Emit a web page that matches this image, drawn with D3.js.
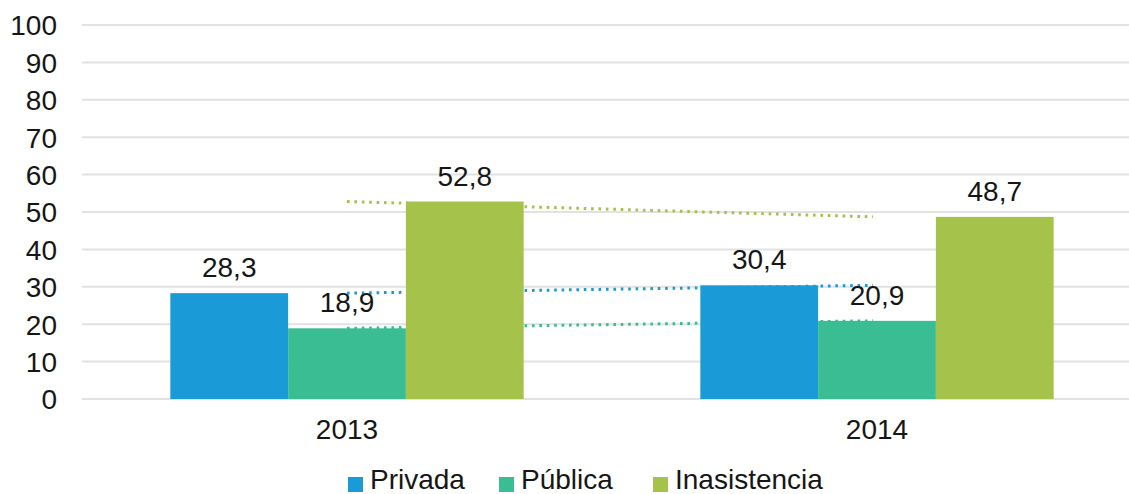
<!DOCTYPE html>
<html>
<head>
<meta charset="utf-8">
<script src="https://cdn.jsdelivr.net/npm/d3@7"></script>
<style>
  html, body { margin: 0; padding: 0; background: #fff; }
  svg text { font-family: "Liberation Sans", Arial, sans-serif; fill: #161616; }
</style>
</head>
<body>
<svg id="chart" width="1129" height="494"></svg>
<script>
const years = ["2013", "2014"];
const seriesNames = ["Privada", "Pública", "Inasistencia"];
const privada = [28.3, 30.4];
const publica = [18.9, 20.9];
const inasistencia = [52.8, 48.7];
const yTicks = [0, 10, 20, 30, 40, 50, 60, 70, 80, 90, 100];
const colors = ["#1a9ad6", "#3bbd93", "#a5c24a"];

const seriesValues = [privada, publica, inasistencia];
const fmt = v => v.toFixed(1).replace(".", ",");

const svg = d3.select("#chart");
const W = 1129, H = 494;
const plotLeft = 82, plotRight = 1142;
const y = d3.scaleLinear().domain([0, 100]).range([399, 25]);
const x0 = d3.scaleBand().domain(years).range([plotLeft, plotRight]).paddingInner(0).paddingOuter(0);
const groupW = x0.bandwidth() / 1.5;
const x1 = d3.scaleBand().domain(seriesNames).range([0, groupW]).padding(0);
const groupStart = yr => x0(yr) + (x0.bandwidth() - groupW) / 2;

// gridlines
svg.append("g").selectAll("line").data(yTicks).join("line")
  .attr("x1", plotLeft).attr("x2", W)
  .attr("y1", d => y(d)).attr("y2", d => y(d))
  .attr("stroke", "#e2e2e2").attr("stroke-width", 2);

// y axis labels
const yAxis = d3.axisLeft(y).tickValues(yTicks).tickSize(0).tickPadding(0);
const yg = svg.append("g").attr("transform", "translate(57,0)").call(yAxis);
yg.select(".domain").remove();
yg.selectAll("text").attr("font-size", 28).attr("dy", "0.35em").style("font-family", "'Liberation Sans', Arial, sans-serif").attr("fill", "#161616");

// trendlines (behind bars)
const trend = svg.append("g");
seriesNames.forEach((s, i) => {
  const vals = seriesValues[i];
  const line = d3.line().x((d, j) => x0(years[j]) + x0.bandwidth() / 2 - (j === 1 ? 4 : 0)).y(d => y(d));
  trend.append("path").datum(vals)
    .attr("d", line)
    .attr("fill", "none")
    .attr("stroke", colors[i])
    .attr("stroke-width", 3)
    .attr("stroke-dasharray", "2.6 4.8");
});

// bars
const bars = svg.append("g");
years.forEach((yr, j) => {
  seriesNames.forEach((s, i) => {
    const v = seriesValues[i][j];
    bars.append("rect")
      .attr("x", groupStart(yr) + x1(s))
      .attr("y", y(v))
      .attr("width", x1.bandwidth())
      .attr("height", y(0) - y(v))
      .attr("fill", colors[i]);
    bars.append("text")
      .attr("x", groupStart(yr) + x1(s) + x1.bandwidth() / 2)
      .attr("y", y(v) - 16)
      .attr("text-anchor", "middle")
      .attr("font-size", 28)
      .text(fmt(v));
  });
});

// x axis labels
const xAxis = d3.axisBottom(x0).tickSize(0).tickPadding(0);
const xg = svg.append("g").attr("transform", "translate(0,439)").call(xAxis);
xg.select(".domain").remove();
xg.selectAll("text").attr("font-size", 28).attr("dy", 0).style("font-family", "'Liberation Sans', Arial, sans-serif").attr("fill", "#161616");

// legend
const legendX = [348, 499, 653];
const lg = svg.append("g");
seriesNames.forEach((s, i) => {
  lg.append("rect").attr("x", legendX[i]).attr("y", 477).attr("width", 15).attr("height", 15).attr("fill", colors[i]);
  lg.append("text").attr("x", legendX[i] + 22).attr("y", 489).attr("font-size", 28).text(s);
});
</script>
</body>
</html>
